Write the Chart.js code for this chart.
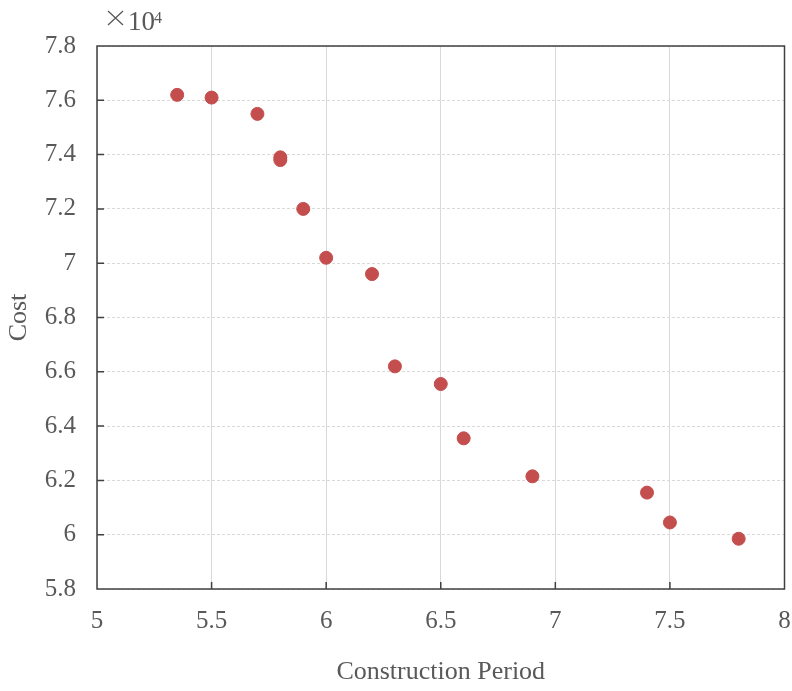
<!DOCTYPE html>
<html>
<head>
<meta charset="utf-8">
<script src="https://cdn.jsdelivr.net/npm/chart.js@4.4.1/dist/chart.umd.min.js"></script>
<style>
  html, body { margin: 0; padding: 0; background: #fff; }
  #wrap { width: 792px; height: 691px; }
</style>
</head>
<body>
<div id="wrap"><canvas id="cost-chart" width="792" height="691"></canvas></div>
<script>
// construction period (x) and cost (y)
const periods = [5.35, 5.5, 5.7, 5.8, 5.8, 5.9, 6.0, 6.2, 6.3, 6.5, 6.6, 6.9, 7.4, 7.5, 7.8];
const costs = [76200, 76100, 75500, 73900, 73800, 72000, 70200, 69600, 66200, 65550, 63550, 62150, 61550, 60450, 59850];

const xTicks = [5, 5.5, 6, 6.5, 7, 7.5, 8];
const yTicks = [5.8, 6, 6.2, 6.4, 6.6, 6.8, 7, 7.2, 7.4, 7.6, 7.8];

const textColor = '#595959';
const fontFamily = '"Liberation Serif", "Times New Roman", serif';

// frame round the plot, inward tick marks and the ×10^4 note
const framePlugin = {
    id: 'frame',
    afterDraw(chart) {
        const {ctx, chartArea: a, scales} = chart;
        ctx.save();
        ctx.strokeStyle = '#404040';
        ctx.lineWidth = 1.5;
        ctx.strokeRect(a.left, a.top, a.right - a.left, a.bottom - a.top);
        ctx.beginPath();
        xTicks.slice(1, -1).forEach(v => {
            const px = scales.x.getPixelForValue(v);
            ctx.moveTo(px, a.bottom);
            ctx.lineTo(px, a.bottom - 7);
        });
        yTicks.slice(1, -1).forEach(v => {
            const py = scales.y.getPixelForValue(v * 1e4);
            ctx.moveTo(a.left, py);
            ctx.lineTo(a.left + 7, py);
        });
        ctx.stroke();

        // the multiplier note
        ctx.strokeStyle = textColor;
        ctx.lineWidth = 1.3;
        ctx.beginPath();
        ctx.moveTo(108, 11); ctx.lineTo(123, 25);
        ctx.moveTo(123, 11); ctx.lineTo(108, 25);
        ctx.stroke();
        ctx.fillStyle = textColor;
        ctx.textBaseline = 'alphabetic';
        ctx.font = '27px ' + fontFamily;
        ctx.fillText('10', 128, 30);
        ctx.font = '16px ' + fontFamily;
        ctx.fillText('4', 154, 23);
        ctx.restore();
    }
};

new Chart(
    document.getElementById('cost-chart'),
    {
        type: 'scatter',
        data: {
            datasets: [
                {
                    label: 'Cost',
                    data: periods.map((p, i) => ({x: p, y: costs[i]})),
                    backgroundColor: '#C44D4D',
                    borderColor: '#C44D4D',
                    pointRadius: 6.5,
                    pointHoverRadius: 6.5
                }
            ]
        },
        options: {
            responsive: false,
            animation: false,
            events: [],
            layout: {padding: {top: 46, right: 6, left: 0, bottom: 0}},
            plugins: {
                legend: {display: false},
                tooltip: {enabled: false}
            },
            scales: {
                x: {
                    type: 'linear',
                    min: 5,
                    max: 8,
                    afterFit: s => {
                        s.height = 102;
                        s.paddingLeft = 0;
                        s.paddingRight = 0;
                    },
                    afterBuildTicks: s => { s.ticks = xTicks.map(v => ({value: v})); },
                    grid: {color: '#d9d9d9', lineWidth: 1, drawTicks: false},
                    border: {display: false},
                    ticks: {
                        color: textColor,
                        padding: 17,
                        maxRotation: 0,
                        font: {family: fontFamily, size: 25},
                        callback: v => String(v)
                    },
                    title: {
                        display: true,
                        text: 'Construction Period',
                        color: textColor,
                        font: {family: fontFamily, size: 26},
                        padding: {top: 0, bottom: 3}
                    }
                },
                y: {
                    type: 'linear',
                    min: 58000,
                    max: 78000,
                    afterFit: s => {
                        s.width = 97;
                        s.paddingTop = 0;
                        s.paddingBottom = 0;
                    },
                    afterBuildTicks: s => { s.ticks = yTicks.map(v => ({value: v * 1e4})); },
                    grid: {color: '#d9d9d9', lineWidth: 1, drawTicks: false},
                    border: {display: false, dash: [3, 2]},
                    ticks: {
                        color: textColor,
                        padding: 21,
                        font: {family: fontFamily, size: 25},
                        callback: v => String(parseFloat((v / 1e4).toFixed(1)))
                    },
                    title: {
                        display: true,
                        text: 'Cost',
                        color: textColor,
                        font: {family: fontFamily, size: 26},
                        padding: {top: 4, bottom: 0}
                    }
                }
            }
        },
        plugins: [framePlugin]
    }
);
</script>
</body>
</html>
